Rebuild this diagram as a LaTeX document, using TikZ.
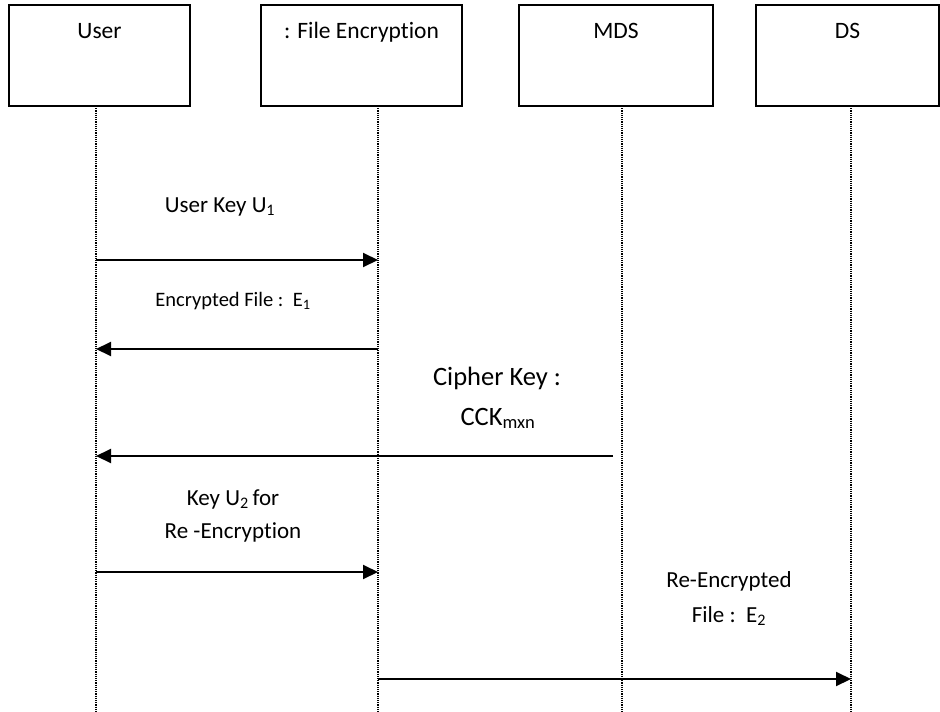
\documentclass[tikz,border=0pt]{standalone}
\usepackage{fontspec}
\setmainfont{Carlito}[RawFeature={-liga}]
\usetikzlibrary{arrows.meta}
\begin{document}
\begin{tikzpicture}[x=1pt,y=-1pt,
  objbox/.style={draw=black,line width=1.5pt,fill=white,minimum width=#1,minimum height=101pt,inner sep=0pt},
  objbox/.default=181pt,
  head/.style={anchor=base,inner sep=0pt,font=\fontsize{23.5}{28}\selectfont},
  msgtxt/.style={anchor=base,inner sep=0pt,font=\fontsize{23}{28}\selectfont},
  life/.style={line width=1.3pt,dash pattern=on 1.1pt off 1.1pt},
  msg/.style={line width=2pt,-{Triangle[length=15pt,width=14pt]}}]
\useasboundingbox (0,0) rectangle (940,712);
\fill[white] (0,0) rectangle (940,712);

% participant boxes
\node[objbox=181pt] (user) at (99.5,55.5) {};
\node[objbox=201pt] (fenc) at (361.5,55.5) {};
\node[objbox=194pt] (mds)  at (616,55.5) {};
\node[objbox=183pt] (ds)   at (847.5,55.5) {};

\path (user.north) ++(0,34) node[head] (userlbl) {User};
\path (fenc.north) ++(0,34) node[head] (fenclbl) {: File Encryption};
\path (mds.north)  ++(0,34) node[head] (mdslbl) {MDS};
\path (ds.north)   ++(0,34) node[head] (dslbl) {DS};

% lifelines
\coordinate (uTop) at (96,106);   \coordinate (uBot) at (96,712);
\coordinate (fTop) at (378,106);  \coordinate (fBot) at (378,712);
\coordinate (mTop) at (622,106);  \coordinate (mBot) at (622,712);
\coordinate (dTop) at (851,106);  \coordinate (dBot) at (851,712);
\draw[life] (uTop) -- (uBot);
\draw[life] (fTop) -- (fBot);
\draw[life] (mTop) -- (mBot);
\draw[life] (dTop) -- (dBot);

% message end points
\coordinate (u1) at (96,260);  \coordinate (f1) at (378,260);
\coordinate (f2) at (378,349); \coordinate (u2) at (96,349);
\coordinate (m3) at (613,456); \coordinate (u3) at (96,456);
\coordinate (u4) at (96,572);  \coordinate (f4) at (378,572);
\coordinate (f5) at (378,679); \coordinate (d5) at (851,679);

% messages
\draw[msg] (u1) -- (f1);
\node[msgtxt] (t1) at (220,212) {User Key U\textsubscript{1}};

\draw[msg] (f2) -- (u2);
\node[msgtxt,font=\fontsize{20.5}{24}\selectfont] (t2) at (233,306) {Encrypted File :\ \ E\textsubscript{1}};

\draw[msg] (m3) -- (u3);
\node[msgtxt,font=\fontsize{26.5}{30}\selectfont] (t3a) at (497,385) {Cipher Key :};
\node[msgtxt,font=\fontsize{26.5}{30}\selectfont] (t3b) at (498,425) {CCK\textsubscript{mxn}};

\draw[msg] (u4) -- (f4);
\node[msgtxt] (t4a) at (233,505) {Key U\textsubscript{2}\,for};
\node[msgtxt] (t4b) at (233,538) {Re -Encryption};

\draw[msg] (f5) -- (d5);
\node[msgtxt] (t5a) at (729,587) {Re-Encrypted};
\node[msgtxt] (t5b) at (729,622) {File :\ \ E\textsubscript{2}};
\end{tikzpicture}
\end{document}
